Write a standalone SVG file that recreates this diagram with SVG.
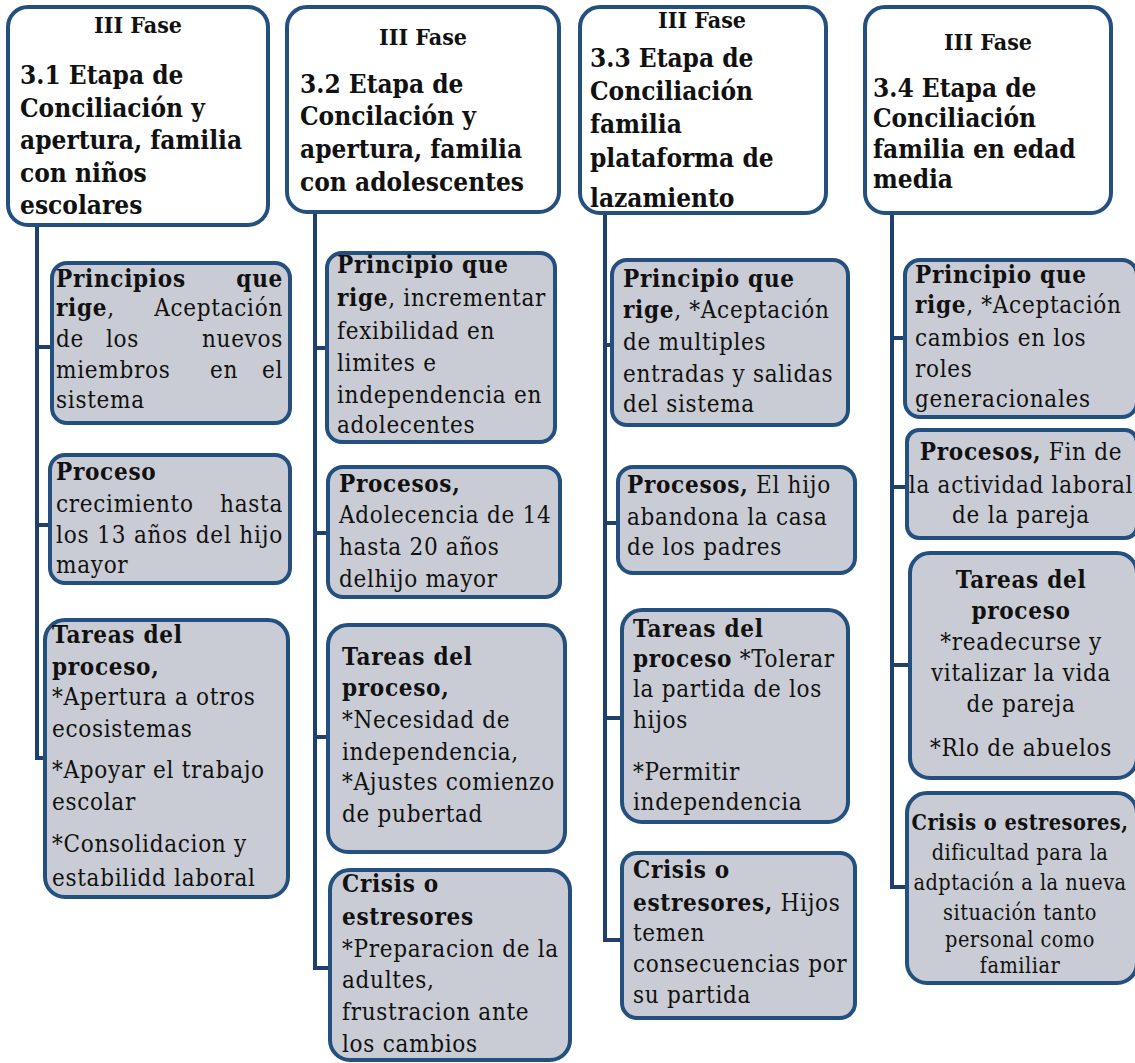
<svg xmlns="http://www.w3.org/2000/svg" width="1135" height="1063" viewBox="0 0 1135 1063">
<style>
.hdr{fill:#ffffff;stroke:#24507f;stroke-width:4}
.box{fill:#c9ccd4;stroke:#24507f;stroke-width:4}
.conn{fill:none;stroke:#1f3f6c;stroke-width:4}
text{font-family:"DejaVu Serif","Liberation Serif",serif;font-stretch:condensed;fill:#111}
.h{font-size:26px;font-weight:bold}
.hf{font-size:23px;font-weight:bold}
.t{font-size:24px;letter-spacing:0.7px}
.s{font-size:21.5px;letter-spacing:0.5px}
.b{font-weight:bold}
.m{text-anchor:middle}
.e{text-anchor:end}
</style>
<g id="connectors">
<path class="conn" d="M37,225 V758 H47 M37,347 H52 M37,525 H50"/>
<path class="conn" d="M315,212 V968 H330 M315,348 H327 M315,533 H328 M315,737 H328"/>
<path class="conn" d="M605,213 V940 H622 M605,345 H612 M605,523 H618 M605,718 H622"/>
<path class="conn" d="M892,213 V887 H907 M892,338 H905 M892,487 H907 M892,665 H910"/>
</g>
<g id="h1">
<rect class="hdr" x="8" y="7" width="260" height="218" rx="20"/>
<text class="hf m" x="138" y="33">III Fase</text>
<text class="h" x="20"><tspan x="20" y="84">3.1 Etapa de</tspan><tspan x="20" y="117">Conciliación y</tspan><tspan x="20" y="149">apertura, familia</tspan><tspan x="20" y="182">con niños</tspan><tspan x="20" y="214">escolares</tspan></text>
</g>
<g id="h2">
<rect class="hdr" x="287" y="7" width="272" height="205" rx="20"/>
<text class="hf m" x="423" y="45">III Fase</text>
<text class="h"><tspan x="300" y="93">3.2 Etapa de</tspan><tspan x="300" y="125">Concilación y</tspan><tspan x="300" y="158">apertura, familia</tspan><tspan x="300" y="191">con adolescentes</tspan></text>
</g>
<g id="h3">
<rect class="hdr" x="580" y="7" width="246" height="206" rx="20"/>
<text class="hf m" x="702" y="28">III Fase</text>
<text class="h"><tspan x="590" y="67">3.3 Etapa de</tspan><tspan x="590" y="100">Conciliación</tspan><tspan x="590" y="133">familia</tspan><tspan x="590" y="167">plataforma de</tspan><tspan x="590" y="207">lazamiento</tspan></text>
</g>
<g id="h4">
<rect class="hdr" x="865" y="7" width="246" height="206" rx="20"/>
<text class="hf m" x="988" y="50">III Fase</text>
<text class="h"><tspan x="873" y="97">3.4 Etapa de</tspan><tspan x="873" y="127">Conciliación</tspan><tspan x="873" y="158">familia en edad</tspan><tspan x="873" y="188">media</tspan></text>
</g>
<g id="c1b1">
<rect class="box" x="52" y="263" width="238" height="160" rx="15"/>
<text class="t"><tspan class="b" x="56" y="287">Principios</tspan><tspan class="b e" x="283" y="287">que</tspan></text>
<text class="t"><tspan class="b" x="56" y="316">rige</tspan><tspan>,</tspan><tspan class="e" x="283" y="316">Aceptación</tspan></text>
<text class="t"><tspan x="56" y="347">de</tspan><tspan x="106" y="347">los</tspan><tspan class="e" x="283" y="347">nuevos</tspan></text>
<text class="t"><tspan x="56" y="378">miembros</tspan><tspan x="210" y="378">en</tspan><tspan class="e" x="283" y="378">el</tspan></text>
<text class="t" x="56" y="408">sistema</text>
</g>
<g id="c1b2">
<rect class="box" x="50" y="455" width="240" height="128" rx="15"/>
<text class="t b" x="56" y="480">Proceso</text>
<text class="t"><tspan x="56" y="512">crecimiento</tspan><tspan class="e" x="283" y="512">hasta</tspan></text>
<text class="t" x="56" y="543" textLength="227" lengthAdjust="spacing">los 13 años del hijo</text>
<text class="t" x="56" y="573">mayor</text>
</g>
<g id="c1b3">
<rect class="box" x="45" y="620" width="243" height="277" rx="20"/>
<text class="t"><tspan class="b" x="52" y="643">Tareas del</tspan><tspan class="b" x="52" y="675">proceso,</tspan><tspan x="52" y="705">*Apertura a otros</tspan><tspan x="52" y="737">ecosistemas</tspan><tspan x="52" y="778">*Apoyar el trabajo</tspan><tspan x="52" y="810">escolar</tspan><tspan x="52" y="852">*Consolidacion y</tspan><tspan x="52" y="886">estabilidd laboral</tspan></text>
</g>
<g id="c2b1">
<rect class="box" x="327" y="253" width="228" height="189" rx="15"/>
<text class="t"><tspan class="b" x="337" y="273">Principio que</tspan><tspan x="337" y="306"><tspan class="b">rige</tspan>, incrementar</tspan><tspan x="337" y="339">fexibilidad en</tspan><tspan x="337" y="371">limites e</tspan><tspan x="337" y="403">independencia en</tspan><tspan x="337" y="433">adolecentes</tspan></text>
</g>
<g id="c2b2">
<rect class="box" x="328" y="467" width="232" height="130" rx="15"/>
<text class="t"><tspan class="b" x="339" y="492">Procesos,</tspan><tspan x="339" y="523">Adolecencia de 14</tspan><tspan x="339" y="555">hasta 20 años</tspan><tspan x="339" y="587">delhijo mayor</tspan></text>
</g>
<g id="c2b3">
<rect class="box" x="328" y="625" width="237" height="227" rx="20"/>
<text class="t"><tspan class="b" x="342" y="665">Tareas del</tspan><tspan class="b" x="342" y="696">proceso,</tspan><tspan x="342" y="728">*Necesidad de</tspan><tspan x="342" y="760">independencia,</tspan><tspan x="342" y="790">*Ajustes comienzo</tspan><tspan x="342" y="822">de pubertad</tspan></text>
</g>
<g id="c2b4">
<rect class="box" x="330" y="870" width="240" height="190" rx="20"/>
<text class="t"><tspan class="b" x="342" y="892">Crisis o</tspan><tspan class="b" x="342" y="925">estresores</tspan><tspan x="342" y="957">*Preparacion de la</tspan><tspan x="342" y="988">adultes,</tspan><tspan x="342" y="1020">frustracion ante</tspan><tspan x="342" y="1052">los cambios</tspan></text>
</g>
<g id="c3b1">
<rect class="box" x="612" y="260" width="236" height="165" rx="15"/>
<text class="t"><tspan class="b" x="623" y="287">Principio que</tspan><tspan x="623" y="318"><tspan class="b">rige</tspan>, *Aceptación</tspan><tspan x="623" y="350">de multiples</tspan><tspan x="623" y="382">entradas y salidas</tspan><tspan x="623" y="412">del sistema</tspan></text>
</g>
<g id="c3b2">
<rect class="box" x="618" y="467" width="237" height="106" rx="15"/>
<text class="t"><tspan x="627" y="493"><tspan class="b">Procesos,</tspan>  El hijo</tspan><tspan x="627" y="525">abandona la casa</tspan><tspan x="627" y="555">de los padres</tspan></text>
</g>
<g id="c3b3">
<rect class="box" x="622" y="610" width="226" height="212" rx="20"/>
<text class="t"><tspan class="b" x="633" y="637">Tareas del</tspan><tspan x="633" y="667"><tspan class="b">proceso</tspan> *Tolerar</tspan><tspan x="633" y="697">la partida de los</tspan><tspan x="633" y="728">hijos</tspan><tspan x="633" y="780">*Permitir</tspan><tspan x="633" y="810">independencia</tspan></text>
</g>
<g id="c3b4">
<rect class="box" x="622" y="853" width="233" height="165" rx="15"/>
<text class="t"><tspan class="b" x="633" y="878">Crisis o</tspan><tspan x="633" y="911"><tspan class="b">estresores,</tspan> Hijos</tspan><tspan x="633" y="941">temen</tspan><tspan x="633" y="972">consecuencias por</tspan><tspan x="633" y="1003">su partida</tspan></text>
</g>
<g id="c4b1">
<rect class="box" x="905" y="260" width="232" height="157" rx="15"/>
<text class="t"><tspan class="b" x="915" y="283">Principio que</tspan><tspan x="915" y="313"><tspan class="b">rige</tspan>, *Aceptación</tspan><tspan x="915" y="346">cambios en los</tspan><tspan x="915" y="377">roles</tspan><tspan x="915" y="407">generacionales</tspan></text>
</g>
<g id="c4b2">
<rect class="box" x="907" y="430" width="230" height="108" rx="12"/>
<text class="t m"><tspan x="1021" y="460"><tspan class="b">Procesos,</tspan>  Fin de</tspan><tspan x="1021" y="493">la actividad laboral</tspan><tspan x="1021" y="523">de la pareja</tspan></text>
</g>
<g id="c4b3">
<rect class="box" x="910" y="553" width="227" height="225" rx="20"/>
<text class="t m"><tspan class="b" x="1021" y="588">Tareas del</tspan><tspan class="b" x="1021" y="619">proceso</tspan><tspan x="1021" y="650">*readecurse y</tspan><tspan x="1021" y="681">vitalizar la vida</tspan><tspan x="1021" y="712">de pareja</tspan><tspan x="1021" y="756">*Rlo de abuelos</tspan></text>
</g>
<g id="c4b4">
<rect class="box" x="907" y="793" width="230" height="190" rx="20"/>
<text class="s m"><tspan class="b" x="1020" y="830">Crisis o estresores,</tspan><tspan x="1020" y="860">dificultad para la</tspan><tspan x="1020" y="890">adptación a la nueva</tspan><tspan x="1020" y="920">situación tanto</tspan><tspan x="1020" y="947">personal como</tspan><tspan x="1020" y="973">familiar</tspan></text>
</g>
</svg>
